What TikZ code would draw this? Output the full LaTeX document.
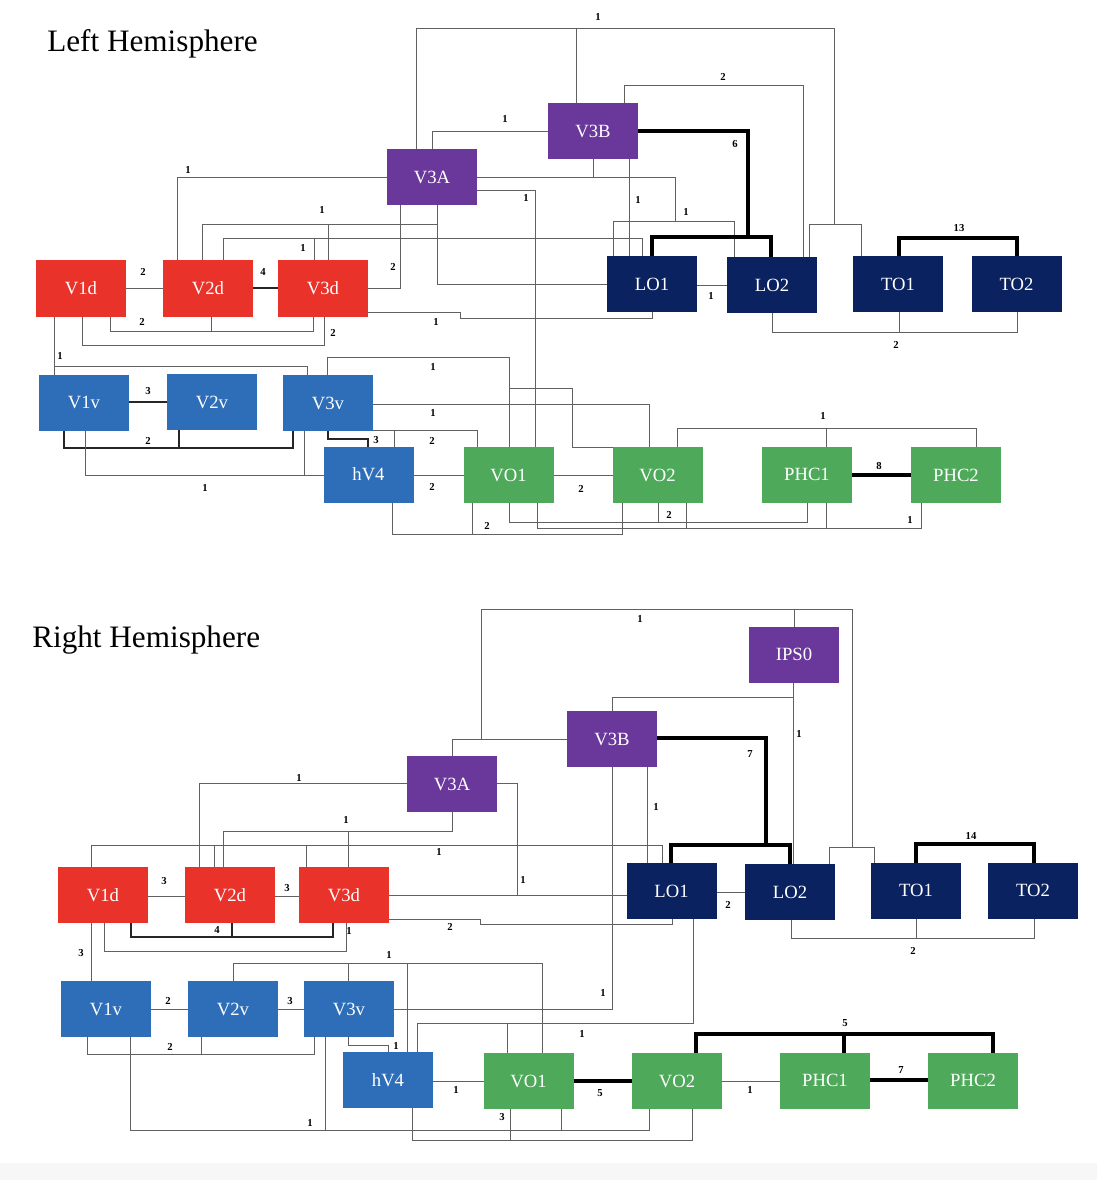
\documentclass[tikz,border=0pt]{standalone}
\usepackage{fontspec}
\setmainfont{Liberation Serif}
\definecolor{cred}{RGB}{232,50,42}
\definecolor{cpurple}{RGB}{106,56,155}
\definecolor{cnavy}{RGB}{11,34,96}
\definecolor{cblue}{RGB}{46,110,184}
\definecolor{cgreen}{RGB}{78,170,90}
\tikzset{
  area/.style={fill=#1, draw=none, text=white, minimum width=67.5pt, minimum height=42pt,
    inner sep=0pt, outer sep=0pt, font=\fontsize{14}{16}\selectfont},
  ln/.style={draw=black!62, line width=0.7pt},
  md/.style={draw=black!85, line width=1.3pt},
  tk/.style={draw=black, line width=2.6pt},
  lb/.style={font=\fontsize{8}{9}\selectfont\bfseries, inner sep=0pt},
  ttl/.style={font=\fontsize{23.4}{28}\selectfont, anchor=base west, inner sep=0pt}
}
\begin{document}
\begin{tikzpicture}[x=0.75pt, y=-0.75pt]
\useasboundingbox (0,0) rectangle (1097,1180);
\fill[black!3] (0,1163) rectangle (1097,1180);

% ================= LEFT HEMISPHERE =================
\node[ttl] (tL) at (47,52) {Left Hemisphere};

\node[area=cpurple] (LV3A) at (432,177) {V3A};
\node[area=cpurple] (LV3B) at (593,131) {V3B};
\node[area=cnavy] (LLO1) at (652,284.5) {LO1};
\node[area=cnavy] (LLO2) at (772,285) {LO2};
\node[area=cnavy] (LTO1) at (898,284.5) {TO1};
\node[area=cnavy] (LTO2) at (1016.5,284.5) {TO2};
\node[area=cred] (LV1d) at (81,288.5) {V1d};
\node[area=cred] (LV2d) at (208,288.5) {V2d};
\node[area=cred] (LV3d) at (323,288.5) {V3d};
\node[area=cblue] (LV1v) at (84,402.5) {V1v};
\node[area=cblue] (LV2v) at (212,402) {V2v};
\node[area=cblue] (LV3v) at (328,403) {V3v};
\node[area=cblue] (LhV4) at (368.5,474.5) {hV4};
\node[area=cgreen] (LVO1) at (508.5,475) {VO1};
\node[area=cgreen] (LVO2) at (657.5,475) {VO2};
\node[area=cgreen] (LPHC1) at (807,474.5) {PHC1};
\node[area=cgreen] (LPHC2) at (956,475) {PHC2};

% top "1"
\draw[ln] (LV3A.north -| 416,0) -- (416,28) -- (834,28) -- (834,224);
\draw[ln] (LV3B.north -| 576,0) -- (576,28);
\draw[ln] (LLO2.north -| 809,0) -- (809,224) -- (861,224) -- (LTO1.north -| 861,0);
\node[lb] at (598,17) {1};
% "2" V3B-LO2
\draw[ln] (LV3B.north -| 624,0) -- (624,85) -- (803,85) -- (LLO2.north -| 803,0);
\node[lb] at (723,77) {2};
% V3A-V3B
\draw[ln] (LV3A.north -| 432,0) -- (432,131) -- (LV3B.west |- 0,131);
\node[lb] at (505,119) {1};
% V3A,V3B -> LO1,LO2
\draw[ln] (LV3A.east |- 0,177) -- (675,177) -- (675,221);
\draw[ln] (LV3B.south -| 593,0) -- (593,177);
\draw[ln] (LLO1.north -| 613,0) -- (613,221) -- (734,221) -- (LLO2.north -| 734,0);
\node[lb] at (686,212) {1};
% V3B-LO1
\draw[ln] (LV3B.south -| 629,0) -- (LLO1.north -| 629,0);
\node[lb] at (638,200) {1};
% V3A-VO1
\draw[ln] (LV3A.east |- 0,190) -- (535,190) -- (LVO1.north -| 535,0);
\node[lb] at (526,198) {1};
% V3A-V2d
\draw[ln] (LV3A.west |- 0,177) -- (177,177) -- (LV2d.north -| 177,0);
\node[lb] at (188,170) {1};
% V2d,V3d,V3A,LO1
\draw[ln] (LV2d.north -| 202,0) -- (202,224) -- (437,224);
\draw[ln] (LV3d.north -| 328,0) -- (328,224);
\draw[ln] (LV3A.south -| 437,0) -- (437,284) -- (LLO1.west |- 0,284);
\node[lb] at (322,210) {1};
% V2d,V3d -> LO1
\draw[ln] (LV2d.north -| 223,0) -- (223,238) -- (642,238) -- (LLO1.north -| 642,0);
\draw[ln] (LV3d.north -| 314,0) -- (314,238);
\node[lb] at (303,248) {1};
% V3A-V3d
\draw[ln] (LV3A.south -| 400,0) -- (400,288) -- (LV3d.east |- 0,288);
\node[lb] at (393,267) {2};
% thick 6
\draw[tk] (LV3B.east |- 0,131) -- (748,131) -- (748,237);
\draw[tk] (LLO1.north -| 652,0) -- (652,237) -- (771,237) -- (LLO2.north -| 771,0);
\node[lb] at (735,144) {6};
% dorsal chain
\draw[ln] (LV1d.east |- 0,288) -- (LV2d.west |- 0,288);
\node[lb] at (143,272) {2};
\draw[md] (LV2d.east |- 0,288) -- (LV3d.west |- 0,288);
\node[lb] at (263,272) {4};
\draw[ln] (LV1d.south -| 110,0) -- (110,331) -- (313,331) -- (LV3d.south -| 313,0);
\draw[ln] (LV2d.south -| 211,0) -- (211,331);
\node[lb] at (142,322) {2};
\draw[ln] (LV1d.south -| 82,0) -- (82,345) -- (324,345) -- (LV3d.south -| 324,0);
\node[lb] at (333,333) {2};
% V3d-LO1
\draw[ln] (LV3d.east |- 0,312) -- (460,312) -- (460,318) -- (652,318) -- (LLO1.south -| 652,0);
\node[lb] at (436,322) {1};
% LO1-LO2
\draw[ln] (LLO1.east |- 0,285) -- (LLO2.west |- 0,285);
\node[lb] at (711,296) {1};
% LO2,TO1,TO2
\draw[ln] (LLO2.south -| 772,0) -- (772,332) -- (1017,332) -- (LTO2.south -| 1017,0);
\draw[ln] (LTO1.south -| 899,0) -- (899,332);
\node[lb] at (896,345) {2};
\draw[tk] (LTO1.north -| 899,0) -- (899,238) -- (1017,238) -- (LTO2.north -| 1017,0);
\node[lb] at (959,228) {13};
% V1d-V1v-V3v
\draw[ln] (LV1d.south -| 54,0) -- (LV1v.north -| 54,0);
\draw[ln] (54,366) -- (307,366) -- (LV3v.north -| 307,0);
\node[lb] at (60,356) {1};
\draw[md] (LV1v.east |- 0,402) -- (LV2v.west |- 0,402);
\node[lb] at (148,391) {3};
\draw[md] (LV1v.south -| 64,0) -- (64,448) -- (293,448) -- (LV3v.south -| 293,0);
\draw[md] (LV2v.south -| 179,0) -- (179,448);
\node[lb] at (148,441) {2};
\draw[ln] (LV1v.south -| 85,0) -- (85,475) -- (LhV4.west |- 0,475);
\draw[ln] (LV3v.south -| 304,0) -- (304,475);
\node[lb] at (205,488) {1};
\draw[md] (LV3v.south -| 328,0) -- (328,439) -- (368,439) -- (LhV4.north -| 368,0);
\node[lb] at (376,440) {3};
% V3v -> VO1, VO2
\draw[ln] (LV3v.north -| 327,0) -- (327,357) -- (509,357) -- (LVO1.north -| 509,0);
\draw[ln] (509,388) -- (572,388) -- (572,447) -- (LVO2.north west);
\node[lb] at (433,367) {1};
\draw[ln] (LV3v.east |- 0,404) -- (649,404) -- (LVO2.north -| 649,0);
\node[lb] at (433,413) {1};
\draw[ln] (LV3v.east |- 0,430) -- (477,430) -- (LVO1.north -| 477,0);
\draw[ln] (394,430) -- (LhV4.north -| 394,0);
\node[lb] at (432,441) {2};
\draw[ln] (LhV4.east |- 0,475) -- (LVO1.west |- 0,475);
\node[lb] at (432,487) {2};
\draw[ln] (LVO1.east |- 0,475) -- (LVO2.west |- 0,475);
\node[lb] at (581,489) {2};
\draw[ln] (LhV4.south -| 392,0) -- (392,534) -- (622,534) -- (LVO2.south -| 622,0);
\draw[ln] (LVO1.south -| 472,0) -- (472,534);
\node[lb] at (487,526) {2};
\draw[ln] (LVO1.south -| 509,0) -- (509,522) -- (807,522) -- (LPHC1.south -| 807,0);
\draw[ln] (LVO2.south -| 658,0) -- (658,522);
\node[lb] at (669,515) {2};
\draw[ln] (LVO1.south -| 537,0) -- (537,528) -- (921,528) -- (LPHC2.south -| 921,0);
\draw[ln] (LVO2.south -| 686,0) -- (686,528);
\draw[ln] (LPHC1.south -| 826,0) -- (826,528);
\node[lb] at (910,520) {1};
\draw[ln] (LVO2.north -| 677,0) -- (677,428) -- (976,428) -- (LPHC2.north -| 976,0);
\draw[ln] (LPHC1.north -| 826,0) -- (826,428);
\node[lb] at (823,416) {1};
\draw[tk] (LPHC1.east |- 0,475) -- (LPHC2.west |- 0,475);
\node[lb] at (879,466) {8};

% ================= RIGHT HEMISPHERE =================
\node[ttl] (tR) at (32,647) {Right Hemisphere};

\node[area=cpurple] (RV3A) at (452,784) {V3A};
\node[area=cpurple] (RV3B) at (612,739) {V3B};
\node[area=cpurple] (RIPS0) at (794,654.5) {IPS0};
\node[area=cnavy] (RLO1) at (671.5,891) {LO1};
\node[area=cnavy] (RLO2) at (790,892) {LO2};
\node[area=cnavy] (RTO1) at (916,890.5) {TO1};
\node[area=cnavy] (RTO2) at (1033,890.5) {TO2};
\node[area=cred] (RV1d) at (103,895) {V1d};
\node[area=cred] (RV2d) at (230,895) {V2d};
\node[area=cred] (RV3d) at (344,895) {V3d};
\node[area=cblue] (RV1v) at (106,1009) {V1v};
\node[area=cblue] (RV2v) at (233,1009) {V2v};
\node[area=cblue] (RV3v) at (349,1009) {V3v};
\node[area=cblue] (RhV4) at (388,1080) {hV4};
\node[area=cgreen] (RVO1) at (528.5,1081) {VO1};
\node[area=cgreen] (RVO2) at (677,1081) {VO2};
\node[area=cgreen] (RPHC1) at (825,1080.5) {PHC1};
\node[area=cgreen] (RPHC2) at (973,1080.5) {PHC2};

\draw[ln] (RV3A.north -| 452,0) -- (452,739) -- (RV3B.west |- 0,739);
\draw[ln] (481,739) -- (481,609) -- (852,609) -- (852,847);
\draw[ln] (RIPS0.north -| 794,0) -- (794,609);
\draw[ln] (RLO2.north -| 829,0) -- (829,847) -- (874,847) -- (RTO1.north -| 874,0);
\node[lb] at (640,619) {1};
\draw[ln] (RV3B.north -| 612,0) -- (612,697) -- (793,697);
\draw[ln] (RIPS0.south -| 793,0) -- (RLO2.north -| 793,0);
\node[lb] at (799,734) {1};
\draw[tk] (RV3B.east |- 0,738) -- (766,738) -- (766,845);
\draw[tk] (RLO1.north -| 671,0) -- (671,845) -- (790,845) -- (RLO2.north -| 790,0);
\node[lb] at (750,754) {7};
\draw[ln] (RV3B.south -| 647,0) -- (RLO1.north -| 647,0);
\node[lb] at (656,807) {1};
\draw[ln] (RV3B.south -| 612,0) -- (612,1009) -- (RV3v.east |- 0,1009);
\node[lb] at (603,993) {1};
\draw[ln] (RV3A.west |- 0,783) -- (199,783) -- (RV2d.north -| 199,0);
\node[lb] at (299,778) {1};
\draw[ln] (RV3A.south -| 452,0) -- (452,831) -- (223,831) -- (RV2d.north -| 223,0);
\draw[ln] (348,831) -- (RV3d.north -| 348,0);
\node[lb] at (346,820) {1};
\draw[ln] (RV1d.north -| 91,0) -- (91,845) -- (662,845) -- (RLO1.north -| 662,0);
\draw[ln] (214,845) -- (RV2d.north -| 214,0);
\draw[ln] (306,845) -- (RV3d.north -| 306,0);
\node[lb] at (439,852) {1};
\draw[ln] (RV3A.east |- 0,783) -- (517,783) -- (517,895);
\draw[ln] (RV3d.east |- 0,895) -- (RLO1.west |- 0,895);
\node[lb] at (523,880) {1};
\draw[ln] (RV3d.east |- 0,919) -- (480,919) -- (480,924) -- (672,924) -- (RLO1.south -| 672,0);
\node[lb] at (450,927) {2};
\draw[ln] (RLO1.east |- 0,892) -- (RLO2.west |- 0,892);
\node[lb] at (728,905) {2};
\draw[ln] (RLO2.south -| 791,0) -- (791,938) -- (1034,938) -- (RTO2.south -| 1034,0);
\draw[ln] (RTO1.south -| 916,0) -- (916,938);
\node[lb] at (913,951) {2};
\draw[tk] (RTO1.north -| 916,0) -- (916,844) -- (1034,844) -- (RTO2.north -| 1034,0);
\node[lb] at (971,836) {14};
\draw[ln] (RV1d.east |- 0,896) -- (RV2d.west |- 0,896);
\node[lb] at (164,881) {3};
\draw[ln] (RV2d.east |- 0,896) -- (RV3d.west |- 0,896);
\node[lb] at (287,888) {3};
\draw[md] (RV1d.south -| 131,0) -- (131,937) -- (333,937) -- (RV3d.south -| 333,0);
\draw[md] (RV2d.south -| 232,0) -- (232,937);
\node[lb] at (217,930) {4};
\draw[ln] (RV1d.south -| 104,0) -- (104,951) -- (346,951) -- (RV3d.south -| 346,0);
\node[lb] at (349,931) {1};
\draw[ln] (RV1d.south -| 91,0) -- (RV1v.north -| 91,0);
\node[lb] at (81,953) {3};
\draw[ln] (RV1v.east |- 0,1009) -- (RV2v.west |- 0,1009);
\node[lb] at (168,1001) {2};
\draw[ln] (RV2v.east |- 0,1009) -- (RV3v.west |- 0,1009);
\node[lb] at (290,1001) {3};
\draw[ln] (RV1v.south -| 87,0) -- (87,1054) -- (314,1054) -- (RV3v.south -| 314,0);
\draw[ln] (RV2v.south -| 201,0) -- (201,1054);
\node[lb] at (170,1047) {2};
\draw[ln] (RV2v.north -| 233,0) -- (233,963) -- (542,963) -- (RVO1.north -| 542,0);
\draw[ln] (RV3v.north -| 348,0) -- (348,963);
\draw[ln] (407,963) -- (RhV4.north -| 407,0);
\node[lb] at (389,955) {1};
\draw[ln] (RV3v.south -| 348,0) -- (348,1045) -- (388,1045) -- (RhV4.north -| 388,0);
\node[lb] at (396,1046) {1};
\draw[ln] (RLO1.south -| 693,0) -- (693,1023) -- (417,1023) -- (RhV4.north -| 417,0);
\draw[ln] (RVO1.north -| 507,0) -- (507,1023);
\node[lb] at (582,1034) {1};
\draw[ln] (RV1v.south -| 130,0) -- (130,1130) -- (649,1130) -- (RVO2.south -| 649,0);
\draw[ln] (RV3v.south -| 325,0) -- (325,1130);
\draw[ln] (RVO1.south -| 561,0) -- (561,1130);
\node[lb] at (310,1123) {1};
\draw[ln] (RhV4.south -| 412,0) -- (412,1140) -- (692,1140) -- (RVO2.south -| 692,0);
\draw[ln] (RVO1.south -| 510,0) -- (510,1140);
\node[lb] at (502,1117) {3};
\draw[ln] (RhV4.east |- 0,1081) -- (RVO1.west |- 0,1081);
\node[lb] at (456,1090) {1};
\draw[tk] (RVO1.east |- 0,1081) -- (RVO2.west |- 0,1081);
\node[lb] at (600,1093) {5};
\draw[ln] (RVO2.east |- 0,1081) -- (RPHC1.west |- 0,1081);
\node[lb] at (750,1090) {1};
\draw[tk] (RPHC1.east |- 0,1080) -- (RPHC2.west |- 0,1080);
\node[lb] at (901,1070) {7};
\draw[tk] (RVO2.north -| 696,0) -- (696,1034) -- (993,1034) -- (RPHC2.north -| 993,0);
\draw[tk] (RPHC1.north -| 844,0) -- (844,1034);
\node[lb] at (845,1023) {5};
\end{tikzpicture}
\end{document}
